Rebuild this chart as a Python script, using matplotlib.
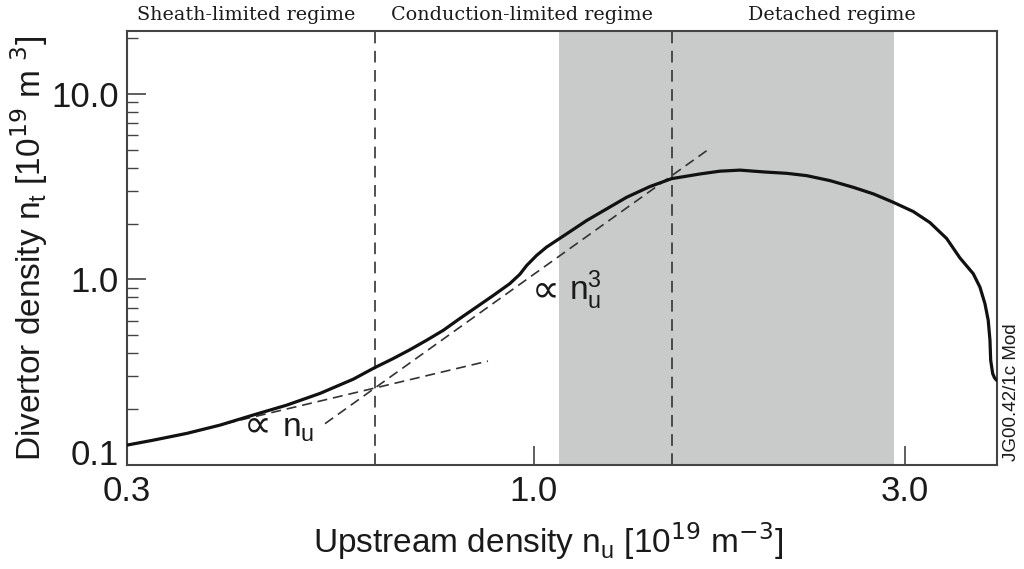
import matplotlib
matplotlib.use("Agg")
import matplotlib.pyplot as plt
from matplotlib.ticker import FixedLocator, FixedFormatter, NullLocator

plt.rcParams['font.family'] = ['Liberation Sans', 'DejaVu Sans']

# divertor density vs upstream density (10^19 m^-3)
nu = [0.300, 0.324, 0.358, 0.395, 0.436, 0.481, 0.531, 0.586, 0.623, 0.659,
      0.693, 0.728, 0.765, 0.803, 0.844, 0.887, 0.931, 0.959, 0.979, 1.008,
      1.038, 1.102, 1.169, 1.316, 1.409, 1.503, 1.635, 1.734, 1.840, 1.981,
      2.113, 2.242, 2.402, 2.573, 2.731, 2.896, 3.073, 3.228, 3.392, 3.528,
      3.670, 3.743, 3.799, 3.836, 3.856, 3.864, 3.887, 3.908, 3.933]
nt = [0.128, 0.136, 0.148, 0.164, 0.186, 0.210, 0.243, 0.290, 0.333, 0.374,
      0.418, 0.470, 0.532, 0.615, 0.710, 0.820, 0.948, 1.064, 1.189, 1.346,
      1.492, 1.761, 2.076, 2.771, 3.162, 3.490, 3.700, 3.830, 3.880, 3.790,
      3.729, 3.623, 3.406, 3.135, 2.889, 2.604, 2.321, 2.025, 1.661, 1.305,
      1.073, 0.909, 0.740, 0.602, 0.470, 0.367, 0.311, 0.295, 0.286]

# scaling guide lines (end points)
lin_x = [0.401, 0.873]
lin_y = [0.167, 0.363]
cub_x = [0.539, 1.680]
cub_y = [0.167, 5.050]

# regime boundaries and detached band
regime_edges = [0.625, 1.506]
detached_band = (1.077, 2.903)

regime_names = ['Sheath-limited regime', 'Conduction-limited regime', 'Detached regime']

W, H = 1024, 569
fig = plt.figure(figsize=(W / 100, H / 100), dpi=100)
ax = fig.add_axes([127 / W, 1 - 465 / H, (997 - 127) / W, (465 - 31) / H])
ax.set_xscale('log')
ax.set_yscale('log')
ax.set_xlim(0.3, 3.937)
ax.set_ylim(0.1, 21.8)

ax.axvspan(*detached_band, color='#c9caca', lw=0, zorder=0)
for xv in regime_edges:
    ax.axvline(xv, color='#333333', lw=1.2, dashes=(7, 4.5), zorder=1)

ax.plot(lin_x, lin_y, color='#333333', lw=1.2, dashes=(6, 3.5), zorder=2)
ax.plot(cub_x, cub_y, color='#333333', lw=1.2, dashes=(6, 3.5), zorder=2)
ax.plot(nu, nt, color='#111111', lw=2.3, solid_joinstyle='round',
        solid_capstyle='round', zorder=3)

# ticks
ax.xaxis.set_major_locator(FixedLocator([0.3, 1.0, 3.0]))
ax.xaxis.set_major_formatter(FixedFormatter(['0.3', '1.0', '3.0']))
ax.xaxis.set_minor_locator(NullLocator())
ax.yaxis.set_major_locator(FixedLocator([0.1, 1.0, 10.0]))
ax.yaxis.set_major_formatter(FixedFormatter(['0.1', '1.0', '10.0']))
yminor = [m * d for d in (0.1, 1.0, 10.0) for m in range(2, 10)]
ax.yaxis.set_minor_locator(FixedLocator([v for v in yminor if v < 21.8]))
ax.tick_params(which='major', direction='in', length=14, width=1.2, color='#444444',
               labelsize=25, pad=6, labelcolor='#1a1a1a')
ax.tick_params(which='minor', direction='in', length=8, width=1.0, color='#444444')
ax.tick_params(axis='x', pad=7)
# lowest y label sits on the frame line
ax.yaxis.get_major_ticks()[0].label1.set_verticalalignment('baseline')
for s in ax.spines.values():
    s.set_color('#444444')
    s.set_linewidth(1.5)

# axis titles
fig.text(548 / W, 1 - 541 / H,
         r'Upstream density $\mathregular{n_u}$ [10$^{19}$ m$^{-3}$]',
         ha='center', va='center', fontsize=24, color='#1a1a1a')
fig.text(29 / W, 1 - 248 / H,
         r'Divertor density $\mathregular{n_t}$ [10$^{19}$ m $^{3}$]',
         ha='center', va='center', rotation=90, fontsize=24, color='#1a1a1a')

# regime labels above the frame
for name, xc in zip(regime_names, [246, 522, 832]):
    fig.text(xc / W, 1 - 20 / H, name, ha='center', va='baseline',
             family='DejaVu Serif', fontsize=13.8, color='#1a1a1a')

# power-law annotations
ax.text(0.4417, 0.164, '\u221d', ha='center', va='center', fontsize=28,
        family='DejaVu Sans', color='#1a1a1a')
ax.text(0.474, 0.143, r'$\mathregular{n_u}$', ha='left', va='baseline',
        fontsize=24, color='#1a1a1a')
ax.text(1.036, 0.873, '\u221d', ha='center', va='center', fontsize=28,
        family='DejaVu Sans', color='#1a1a1a')
ax.text(1.109, 0.771, r'$\mathregular{n_u^3}$', ha='left', va='baseline',
        fontsize=24, color='#1a1a1a')

fig.text(1012 / W, 1 - 392 / H, 'JG00.42/1c Mod', rotation=90, ha='center',
         va='center', fontsize=13.5, color='#1a1a1a')

fig.savefig('out.png', dpi=100)
